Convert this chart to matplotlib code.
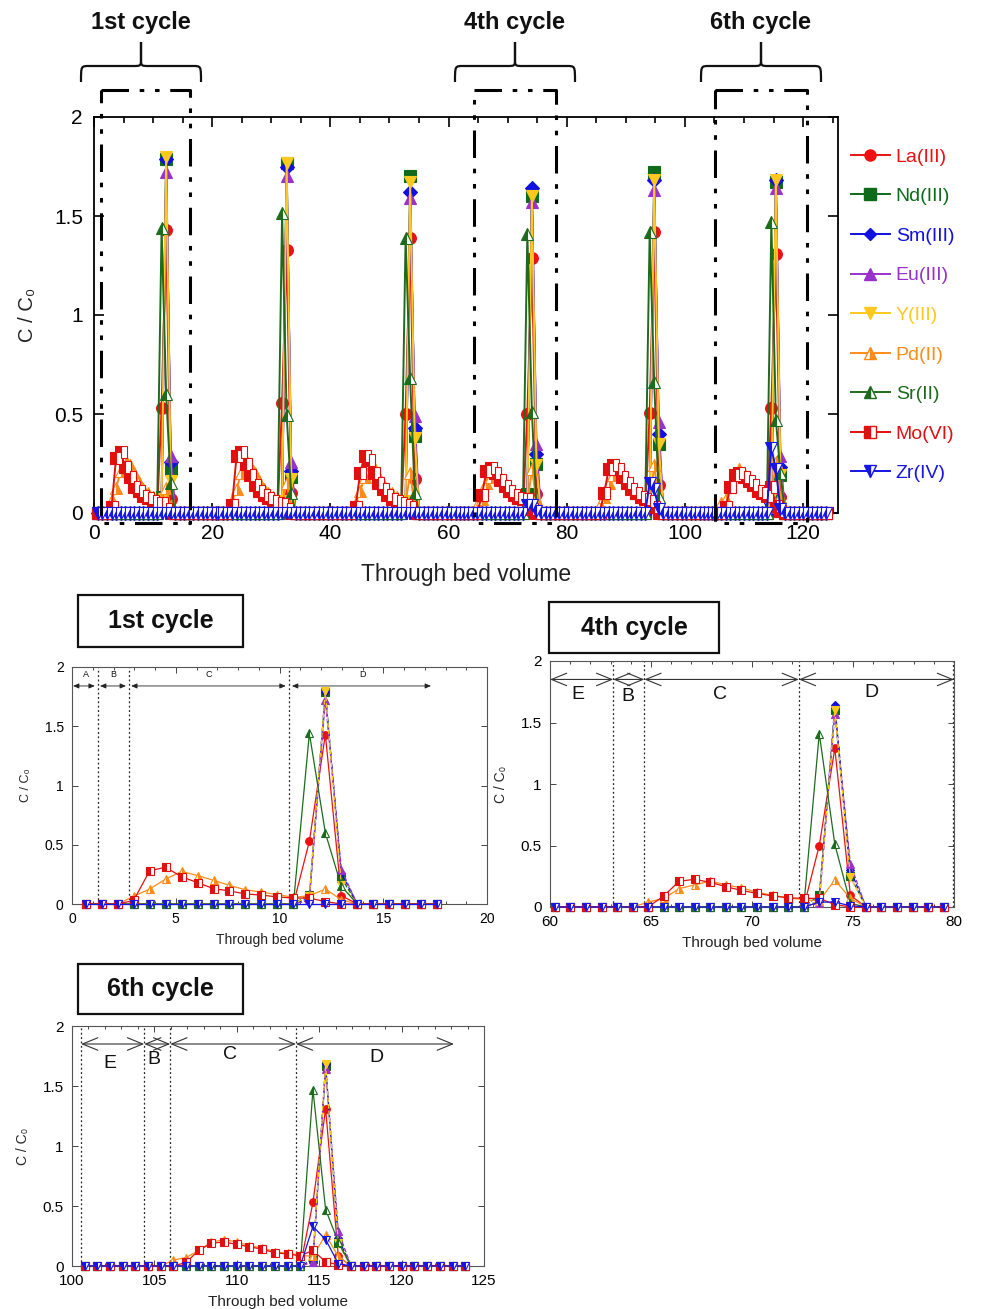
import numpy as np
import matplotlib
matplotlib.use('Agg')
import matplotlib.pyplot as plt
from matplotlib.path import Path
from matplotlib.patches import PathPatch, Rectangle
from matplotlib.lines import Line2D
from matplotlib.ticker import MultipleLocator, FuncFormatter

plt.rcParams['font.family'] = ['Liberation Sans', 'DejaVu Sans']

W, H = 985, 1309

# ---------------- data ----------------
elements = ['La(III)', 'Nd(III)', 'Sm(III)', 'Eu(III)', 'Y(III)', 'Pd(II)', 'Sr(II)', 'Mo(VI)', 'Zr(IV)']
colors = ['#EE1111', '#0F6B1A', '#1010E0', '#9932CC', '#FFC81E', '#FF8C1A', '#1E6B1E', '#E01010', '#1515E6']

# bed volume of the main elution peak of each cycle and sampling step
PEAK_BV = [12.21, 32.6, 53.5, 74.1, 94.8, 115.39]
STEP = 0.77

# values at fraction offsets -1, 0, +1 around the peak, one row per cycle
La_peak = [[0.53, 1.43, 0.07], [0.555, 1.33, 0.10], [0.50, 1.39, 0.17],
           [0.50, 1.29, 0.095], [0.505, 1.42, 0.14], [0.53, 1.31, 0.08]]
Nd_peak = [[0.08, 1.79, 0.22], [0.05, 1.77, 0.18], [0.05, 1.70, 0.39],
           [0.095, 1.60, 0.25], [0.05, 1.72, 0.35], [0.06, 1.67, 0.19]]
Sm_peak = [[0.05, 1.79, 0.26], [0.04, 1.75, 0.21], [0.04, 1.62, 0.43],
           [0.05, 1.64, 0.30], [0.04, 1.68, 0.40], [0.05, 1.68, 0.23]]
Eu_peak = [[0.03, 1.72, 0.29], [0.03, 1.70, 0.26], [0.03, 1.59, 0.49],
           [0.03, 1.57, 0.35], [0.03, 1.63, 0.46], [0.03, 1.64, 0.29]]
Y_peak = [[0.07, 1.80, 0.16], [0.06, 1.77, 0.17], [0.06, 1.67, 0.38],
          [0.05, 1.60, 0.24], [0.06, 1.68, 0.35], [0.08, 1.68, 0.19]]
Sr_peak = [[1.44, 0.60, 0.15], [1.515, 0.495, 0.10], [1.39, 0.68, 0.10],
           [1.41, 0.51, 0.03], [1.42, 0.66, 0.08], [1.47, 0.47, 0.20]]
Zr_peak = [[0.0, 0.0, 0.0], [0.0, 0.0, 0.0], [0.0, 0.0, 0.0],
           [0.04, 0.04, 0.01], [0.15, 0.12, 0.02], [0.33, 0.22, 0.02]]

# values at fraction offsets -12 ... +1 (14 fractions), one row per cycle
Mo_band = [[0.03, 0.28, 0.31, 0.23, 0.18, 0.13, 0.11, 0.085, 0.075, 0.06, 0.05, 0.05, 0.02, 0.0],
           [0.04, 0.29, 0.31, 0.25, 0.19, 0.14, 0.11, 0.09, 0.075, 0.06, 0.05, 0.045, 0.02, 0.0],
           [0.03, 0.20, 0.29, 0.27, 0.20, 0.15, 0.12, 0.09, 0.07, 0.06, 0.05, 0.04, 0.03, 0.0],
           [0.0, 0.09, 0.21, 0.225, 0.20, 0.165, 0.135, 0.11, 0.09, 0.075, 0.07, 0.07, 0.02, 0.0],
           [0.0, 0.10, 0.22, 0.24, 0.22, 0.18, 0.15, 0.12, 0.10, 0.08, 0.07, 0.06, 0.03, 0.0],
           [0.0, 0.03, 0.13, 0.19, 0.20, 0.18, 0.16, 0.14, 0.11, 0.10, 0.085, 0.13, 0.035, 0.01]]
Pd_band = [[0.065, 0.126, 0.21, 0.275, 0.24, 0.20, 0.157, 0.12, 0.10, 0.08, 0.056, 0.07, 0.126, 0.036],
           [0.06, 0.12, 0.20, 0.27, 0.24, 0.20, 0.16, 0.12, 0.10, 0.08, 0.06, 0.05, 0.15, 0.03],
           [0.05, 0.11, 0.18, 0.26, 0.23, 0.19, 0.15, 0.12, 0.10, 0.08, 0.06, 0.05, 0.20, 0.03],
           [0.04, 0.07, 0.15, 0.18, 0.21, 0.18, 0.155, 0.12, 0.095, 0.075, 0.06, 0.05, 0.22, 0.07],
           [0.04, 0.08, 0.15, 0.19, 0.22, 0.19, 0.16, 0.13, 0.10, 0.08, 0.06, 0.05, 0.24, 0.06],
           [0.05, 0.07, 0.13, 0.20, 0.22, 0.20, 0.17, 0.15, 0.12, 0.105, 0.09, 0.08, 0.26, 0.08]]

main_xticks = [0, 20, 40, 60, 80, 100, 120]
y_ticks = [0, 0.5, 1, 1.5, 2]

peak_data = {'La(III)': La_peak, 'Nd(III)': Nd_peak, 'Sm(III)': Sm_peak, 'Eu(III)': Eu_peak,
             'Y(III)': Y_peak, 'Sr(II)': Sr_peak, 'Zr(IV)': Zr_peak}
band_data = {'Mo(VI)': Mo_band, 'Pd(II)': Pd_band}


def cycle_series(c, kmin, kmax):
    k = np.arange(kmin, kmax + 1)
    x = PEAK_BV[c] + k * STEP
    out = {}
    for el in elements:
        y = np.zeros(len(k))
        if el in peak_data:
            for off, v in zip((-1, 0, 1), peak_data[el][c]):
                y[k == off] = v
        else:
            for off, v in zip(range(-12, 2), band_data[el][c]):
                y[k == off] = v
        out[el] = y
    return x, out


# ---------------- styles ----------------
style = {
    'La(III)': dict(marker='o', fillstyle='full'),
    'Nd(III)': dict(marker='s', fillstyle='full'),
    'Sm(III)': dict(marker='D', fillstyle='full'),
    'Eu(III)': dict(marker='^', fillstyle='full'),
    'Y(III)': dict(marker='v', fillstyle='full'),
    'Pd(II)': dict(marker='^', fillstyle='right'),
    'Sr(II)': dict(marker='^', fillstyle='left'),
    'Mo(VI)': dict(marker='s', fillstyle='left'),
    'Zr(IV)': dict(marker='v', fillstyle='left'),
}
dashed_detail = {'Nd(III)', 'Sm(III)', 'Eu(III)', 'Y(III)'}


def draw_series(ax, x, data, ms, lw, detail=False):
    for el, col in zip(elements, colors):
        st = style[el]
        ls = '--' if (detail and el in dashed_detail) else '-'
        ms_el = ms * (0.8 if st['marker'] == 'D' else 1.0)
        ax.plot(x, data[el], color=col, lw=lw, ls=ls, marker=st['marker'],
                fillstyle=st['fillstyle'], markerfacecolor=col,
                markerfacecoloralt='white', markeredgecolor=col,
                markeredgewidth=0.8, markersize=ms_el, clip_on=False, zorder=3)


def fmt_num(v, pos):
    return '%g' % v


def fx(px):
    return px / W


def fy(py):
    return 1 - py / H


fig = plt.figure(figsize=(W / 100, H / 100), dpi=100)

# ---------------- main chart ----------------
ax = fig.add_axes([fx(94), fy(513), (838 - 94) / W, (513 - 117) / H])
xs, ys = [], {el: [] for el in elements}
for c in range(6):
    x, d = cycle_series(c, -15, 11)
    xs.append(x)
    for el in elements:
        ys[el].append(d[el])
x_main = np.concatenate(xs)
data_main = {el: np.concatenate(ys[el]) for el in elements}
draw_series(ax, x_main, data_main, ms=8.5, lw=1.4)

ax.set_xlim(0, 125.9)
ax.set_ylim(0, 2)
ax.set_xticks(main_xticks)
ax.xaxis.set_minor_locator(MultipleLocator(5))
ax.set_yticks(y_ticks)
ax.yaxis.set_major_formatter(FuncFormatter(fmt_num))
ax.tick_params(which='both', direction='in', top=True, right=True, labelsize=15, width=1.2)
ax.tick_params(which='major', length=7, pad=8)
ax.tick_params(which='minor', length=4)
for s in ax.spines.values():
    s.set_linewidth(1.3)
ax.set_xlabel('Through bed volume', fontsize=16.5, labelpad=14, color='#222222')
ax.set_ylabel('C / C₀', fontsize=14.5, labelpad=12, color='#222222')

# dash-dot-dot boxes around cycles 1, 4, 6
box_ls = (0, (9, 3.5, 1.5, 3.5, 1.5, 3.5))
for x0, x1 in [(1.2, 16.3), (64.3, 78.2), (105.1, 120.6)]:
    ax.plot([x0, x1, x1, x0, x0], [2.136, 2.136, -0.05, -0.05, 2.136], color='black',
            lw=2.2, ls=box_ls, clip_on=False, zorder=5)

# legend
handles = []
for el, col in zip(elements, colors):
    st = style[el]
    handles.append(Line2D([], [], color=col, lw=1.4, marker=st['marker'], fillstyle=st['fillstyle'],
                          markerfacecolor=col, markerfacecoloralt='white', markeredgecolor=col,
                          markersize=8 * (0.8 if st['marker'] == 'D' else 1.0)))
fig.legend(handles, elements, loc='upper left', bbox_to_anchor=(fx(851), fy(148)),
           frameon=False, fontsize=14, labelcolor=colors, handlelength=2.0,
           handletextpad=0.3, labelspacing=1.13, borderpad=0, borderaxespad=0)


# braces and cycle labels
def brace(xl, xr, yb=82, yh=66, yt=42, r=8):
    xm = (xl + xr) / 2
    P = lambda x, y: (fx(x), fy(y))
    for sgn, xe in [(1, xl), (-1, xr)]:
        verts = [P(xe, yb), P(xe, yh), P(xe, yh), P(xe + sgn * r, yh),
                 P(xm - sgn * r, yh), P(xm, yh), P(xm, yh), P(xm, yh - r), P(xm, yt)]
        codes = [Path.MOVETO, Path.CURVE4, Path.CURVE4, Path.CURVE4, Path.LINETO,
                 Path.CURVE4, Path.CURVE4, Path.CURVE4, Path.LINETO]
        fig.add_artist(PathPatch(Path(verts, codes), fill=False, lw=1.6, ec='#111111',
                                 transform=fig.transFigure))


for (xl, xr), lab in zip([(81, 201), (455, 575), (701, 821)], ['1st cycle', '4th cycle', '6th cycle']):
    brace(xl, xr)
    fig.text(fx((xl + xr) / 2), fy(23), lab, ha='center', va='center', fontsize=17,
             fontweight='bold', color='#111111')


# ---------------- detail panels ----------------
def detail_axes(rect_px, cyc, kmin, kmax, xlim, title_box, title, fs, dotted, arrows, letters, small_arrows):
    l, t, r, b = rect_px
    axd = fig.add_axes([fx(l), fy(b), (r - l) / W, (b - t) / H])
    x, d = cycle_series(cyc, kmin, kmax)
    draw_series(axd, x, d, ms=5.5, lw=0.9, detail=True)
    axd.set_xlim(*xlim)
    axd.set_ylim(0, 2)
    axd.xaxis.set_major_locator(MultipleLocator(5))
    axd.xaxis.set_minor_locator(MultipleLocator(1))
    axd.set_yticks(y_ticks)
    axd.yaxis.set_major_formatter(FuncFormatter(fmt_num))
    axd.tick_params(which='both', direction='in', top=True, right=True, labelsize=fs, width=0.7,
                    color='#444444')
    axd.tick_params(which='major', length=4)
    axd.tick_params(axis='x', which='major', pad=6)
    axd.tick_params(axis='y', which='major', pad=6)
    axd.tick_params(which='minor', length=2.5)
    for s in axd.spines.values():
        s.set_linewidth(0.8)
        s.set_color('#555555')
    axd.set_xlabel('Through bed volume', fontsize=fs, labelpad=5, color='#222222')
    axd.set_ylabel('C / C₀', fontsize=fs - 1, labelpad=9, color='#222222')
    for xv in dotted:
        axd.axvline(xv, ymin=0, ymax=1, color='#222222', lw=0.9, ls=(0, (1.5, 2)), zorder=1)
    for (a0, a1) in arrows:
        if small_arrows:
            axd.annotate('', xy=(a1, 1.84), xytext=(a0, 1.84),
                         arrowprops=dict(arrowstyle='<|-|>,head_length=0.35,head_width=0.15',
                                         lw=0.6, color='#222222', shrinkA=0, shrinkB=0))
        else:
            axd.annotate('', xy=(a1, 1.85), xytext=(a0, 1.85),
                         arrowprops=dict(arrowstyle='<->,head_length=1.1,head_width=0.45',
                                         lw=0.8, color='#333333', shrinkA=0, shrinkB=0))
    for (lx, ly, txt, lfs) in letters:
        axd.text(lx, ly, txt, ha='center', va='center', fontsize=lfs, color='#111111')
    bl, bt, br, bb = title_box
    fig.add_artist(Rectangle((fx(bl), fy(bb)), (br - bl) / W, (bb - bt) / H, fill=False,
                             lw=1.6, ec='#111111', transform=fig.transFigure))
    fig.text(fx((bl + br) / 2), fy((bt + bb) / 2), title, ha='center', va='center', fontsize=18,
             fontweight='bold', color='#111111')
    return axd


detail_axes((72, 667, 487, 904), 0, -15, 7, (0, 20), (78, 595, 243, 647), '1st cycle', 10,
            [1.25, 2.75, 10.45],
            [(0.05, 1.1), (1.35, 2.6), (2.85, 10.3), (10.6, 17.3)],
            [(0.65, 1.94, 'A', 6.5), (2.0, 1.94, 'B', 6.5), (6.6, 1.94, 'C', 6.5), (14.0, 1.94, 'D', 6.5)],
            True)

detail_axes((550, 661, 954, 907), 3, -18, 7, (60, 80), (549, 602, 719, 653), '4th cycle', 11,
            [63.13, 64.67, 72.32, 79.95],
            [(60.0, 63.13), (63.13, 64.67), (64.67, 72.32), (72.32, 80.0)],
            [(61.37, 1.73, 'E', 14), (63.85, 1.71, 'B', 14), (68.4, 1.73, 'C', 14), (75.9, 1.74, 'D', 14)],
            False)

detail_axes((72, 1026, 484, 1266), 5, -19, 11, (100, 125), (78, 964, 243, 1014), '6th cycle', 11,
            [100.55, 104.38, 105.96, 113.59],
            [(100.55, 104.38), (104.38, 105.96), (105.96, 113.59), (113.59, 123.18)],
            [(102.28, 1.69, 'E', 14), (104.95, 1.72, 'B', 14), (109.6, 1.76, 'C', 14), (118.5, 1.74, 'D', 14)],
            False)

fig.savefig('out.png', dpi=100)
